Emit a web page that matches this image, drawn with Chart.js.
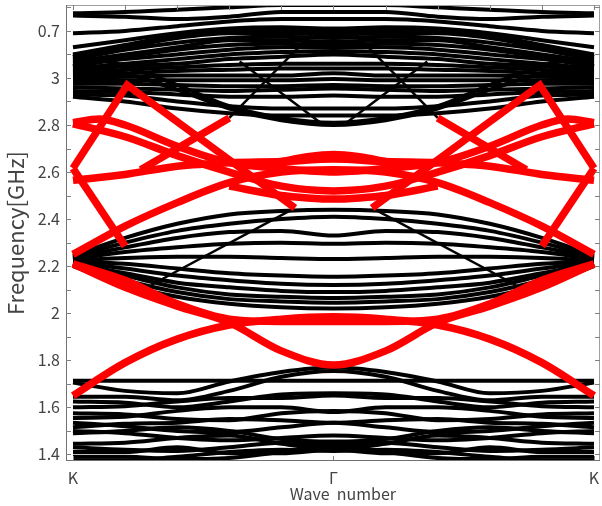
<!DOCTYPE html>
<html>
<head>
<meta charset="utf-8">
<script src="https://cdn.jsdelivr.net/npm/chart.js@4"></script>
<style>
  body { margin: 0; background: #ffffff; }
  canvas { display: block; }
</style>
</head>
<body>
<canvas id="bandChart" width="602" height="506"></canvas>
<script>
// ======================================================
// BAND DIAGRAM DATA (frequency in GHz along K - Γ - K)
// ======================================================
const kPos = [0, 0.1, 0.2, 0.3, 0.4, 0.5, 0.6, 0.7, 0.8, 0.9, 1];

const xTicks = [0, 0.5, 1];
const xTickLabels = ["K", "Γ", "K"];
const yTicks = [1.4, 1.6, 1.8, 2.0, 2.2, 2.4, 2.6, 2.8, 3.0, 3.2];
const yTickLabels = ["1.4", "1.6", "1.8", "2", "2.2", "2.4", "2.6", "2.8", "3", "0.7"];

// lower black bands
const lowBands = [
    [1.713, 1.713, 1.713, 1.713, 1.713, 1.713, 1.713, 1.713, 1.713, 1.713, 1.713],
    [1.705, 1.67, 1.66, 1.71, 1.75, 1.77, 1.75, 1.71, 1.66, 1.67, 1.705],
    [1.645, 1.645, 1.63, 1.67, 1.73, 1.755, 1.73, 1.67, 1.63, 1.645, 1.645],
    [1.625, 1.62, 1.60, 1.625, 1.655, 1.66, 1.655, 1.625, 1.60, 1.62, 1.625],
    [1.60, 1.605, 1.625, 1.64, 1.64, 1.65, 1.64, 1.64, 1.625, 1.605, 1.60],
    [1.575, 1.57, 1.55, 1.545, 1.575, 1.585, 1.575, 1.545, 1.55, 1.57, 1.575],
    [1.555, 1.56, 1.585, 1.60, 1.60, 1.58, 1.60, 1.60, 1.585, 1.56, 1.555],
    [1.535, 1.52, 1.50, 1.495, 1.515, 1.535, 1.515, 1.495, 1.50, 1.52, 1.535],
    [1.515, 1.53, 1.535, 1.55, 1.545, 1.535, 1.545, 1.55, 1.535, 1.53, 1.515],
    [1.50, 1.49, 1.47, 1.46, 1.47, 1.48, 1.47, 1.46, 1.47, 1.49, 1.50],
    [1.49, 1.50, 1.515, 1.50, 1.465, 1.455, 1.465, 1.50, 1.515, 1.50, 1.49],
    [1.445, 1.45, 1.47, 1.48, 1.445, 1.425, 1.445, 1.48, 1.47, 1.45, 1.445],
    [1.43, 1.42, 1.415, 1.43, 1.45, 1.44, 1.45, 1.43, 1.415, 1.42, 1.43],
    [1.41, 1.41, 1.43, 1.405, 1.405, 1.42, 1.405, 1.405, 1.43, 1.41, 1.41],
    [1.39, 1.39, 1.38, 1.385, 1.41, 1.43, 1.41, 1.385, 1.38, 1.39, 1.39],
    [1.375, 1.375, 1.39, 1.41, 1.42, 1.415, 1.42, 1.41, 1.39, 1.375, 1.375]
];

// middle black fan
const midBands = [
    [2.245, 2.32, 2.38, 2.42, 2.435, 2.44, 2.435, 2.42, 2.38, 2.32, 2.245],
    [2.24, 2.30, 2.35, 2.38, 2.40, 2.41, 2.40, 2.38, 2.35, 2.30, 2.24],
    [2.235, 2.28, 2.32, 2.345, 2.35, 2.33, 2.35, 2.345, 2.32, 2.28, 2.235],
    [2.23, 2.26, 2.28, 2.295, 2.30, 2.295, 2.30, 2.295, 2.28, 2.26, 2.23],
    [2.225, 2.235, 2.24, 2.24, 2.235, 2.23, 2.235, 2.24, 2.24, 2.235, 2.225],
    [2.22, 2.21, 2.19, 2.17, 2.16, 2.155, 2.16, 2.17, 2.19, 2.21, 2.22],
    [2.215, 2.19, 2.16, 2.14, 2.125, 2.12, 2.125, 2.14, 2.16, 2.19, 2.215],
    [2.21, 2.17, 2.13, 2.11, 2.095, 2.09, 2.095, 2.11, 2.13, 2.17, 2.21],
    [2.21, 2.16, 2.11, 2.08, 2.07, 2.065, 2.07, 2.08, 2.11, 2.16, 2.21],
    [2.205, 2.14, 2.09, 2.06, 2.05, 2.045, 2.05, 2.06, 2.09, 2.14, 2.205],
    [2.20, 2.12, 2.07, 2.04, 2.025, 2.02, 2.025, 2.04, 2.07, 2.12, 2.20]
];

// upper black bands
const highBands = [
    [3.275, 3.28, 3.29, 3.30, 3.31, 3.31, 3.31, 3.30, 3.29, 3.28, 3.275],
    [3.265, 3.26, 3.25, 3.26, 3.28, 3.28, 3.28, 3.26, 3.25, 3.26, 3.265],
    [3.19, 3.20, 3.22, 3.24, 3.25, 3.25, 3.25, 3.24, 3.22, 3.20, 3.19],
    [3.13, 3.16, 3.19, 3.21, 3.215, 3.21, 3.215, 3.21, 3.19, 3.16, 3.13],
    [3.10, 3.14, 3.18, 3.20, 3.20, 3.20, 3.20, 3.20, 3.18, 3.14, 3.10],
    [3.09, 3.13, 3.17, 3.19, 3.19, 3.185, 3.19, 3.19, 3.17, 3.13, 3.09],
    [3.08, 3.12, 3.15, 3.17, 3.175, 3.17, 3.175, 3.17, 3.15, 3.12, 3.08],
    [3.07, 3.10, 3.13, 3.16, 3.16, 3.155, 3.16, 3.16, 3.13, 3.10, 3.07],
    [3.06, 3.09, 3.12, 3.14, 3.145, 3.14, 3.145, 3.14, 3.12, 3.09, 3.06],
    [3.05, 3.08, 3.10, 3.12, 3.13, 3.13, 3.13, 3.12, 3.10, 3.08, 3.05],
    [3.04, 3.06, 3.08, 3.10, 3.11, 3.115, 3.11, 3.10, 3.08, 3.06, 3.04],
    [3.03, 3.05, 3.06, 3.08, 3.09, 3.10, 3.09, 3.08, 3.06, 3.05, 3.03],
    [3.02, 3.035, 3.045, 3.055, 3.06, 3.06, 3.06, 3.055, 3.045, 3.035, 3.02],
    [3.01, 3.02, 3.03, 3.035, 3.04, 3.04, 3.04, 3.035, 3.03, 3.02, 3.01],
    [3.00, 3.005, 3.01, 3.01, 3.01, 3.02, 3.01, 3.01, 3.01, 3.005, 3.00],
    [2.99, 2.99, 2.99, 2.99, 2.99, 2.995, 2.99, 2.99, 2.99, 2.99, 2.99],
    [2.975, 2.975, 2.97, 2.965, 2.965, 2.97, 2.965, 2.965, 2.97, 2.975, 2.975],
    [2.96, 2.955, 2.95, 2.945, 2.95, 2.955, 2.95, 2.945, 2.95, 2.955, 2.96],
    [2.945, 2.94, 2.93, 2.92, 2.92, 2.925, 2.92, 2.92, 2.93, 2.94, 2.945],
    [2.93, 2.925, 2.90, 2.88, 2.87, 2.87, 2.87, 2.88, 2.90, 2.925, 2.93],
    [2.92, 2.90, 2.87, 2.85, 2.84, 2.84, 2.84, 2.85, 2.87, 2.90, 2.92],
    [3.10, 3.05, 2.97, 2.88, 2.83, 2.81, 2.83, 2.88, 2.97, 3.05, 3.10],
    [3.06, 3.02, 2.95, 2.87, 2.82, 2.80, 2.82, 2.87, 2.95, 3.02, 3.06]
];

// thin straight black lines
const thinX = [[0.15, 0.42], [0.85, 0.58], [0.30, 0.46], [0.70, 0.54], [0.32, 0.475], [0.68, 0.525]];
const thinY = [[2.12, 2.44], [2.12, 2.44], [2.83, 3.19], [2.83, 3.19], [3.07, 2.81], [3.07, 2.81]];

// red (highlighted) bands on the K grid
const redBands = [
    [1.65, 1.79, 1.89, 1.95, 1.975, 1.985, 1.975, 1.95, 1.89, 1.79, 1.65],
    [2.21, 2.11, 2.03, 1.96, 1.84, 1.78, 1.84, 1.96, 2.03, 2.11, 2.21],
    [2.21, 2.14, 2.04, 1.975, 1.965, 1.965, 1.965, 1.975, 2.04, 2.14, 2.21],
    [2.25, 2.37, 2.47, 2.555, 2.60, 2.61, 2.60, 2.555, 2.47, 2.37, 2.25],
    [2.565, 2.59, 2.625, 2.64, 2.645, 2.655, 2.645, 2.64, 2.625, 2.59, 2.565],
    [2.805, 2.75, 2.67, 2.60, 2.54, 2.52, 2.54, 2.60, 2.67, 2.75, 2.805]
];

// red bands with their own k samples
const redLoopX = [0, 0.05, 0.1, 0.2, 0.3, 0.4, 0.5, 0.6, 0.7, 0.8, 0.9, 0.95, 1];
const redLoopY = [2.81, 2.825, 2.80, 2.71, 2.64, 2.615, 2.60, 2.615, 2.64, 2.71, 2.80, 2.825, 2.81];
const redHumpX = [0.4, 0.45, 0.5, 0.55, 0.6];
const redHumpY = [2.645, 2.665, 2.675, 2.665, 2.645];
const redEllX = [0.3, 0.4, 0.45, 0.5, 0.55, 0.6, 0.7];
const redEllY = [2.54, 2.50, 2.49, 2.485, 2.49, 2.50, 2.54];

// red straight segments
const segX = [[0, 0.104, 0.426], [1, 0.896, 0.574], [0, 0.1], [1, 0.9], [0.13, 0.30], [0.87, 0.70]];
const segY = [[2.616, 2.97, 2.447], [2.616, 2.97, 2.447], [2.616, 2.285], [2.616, 2.285], [2.61, 2.83], [2.61, 2.83]];


// ======================================================
// DATASETS
// ======================================================
function toPoints(xs, ys) {
    return xs.map((x, i) => ({ x: x, y: ys[i] }));
}

function curve(xs, ys, color, width, smooth, order) {
    return {
        data: toPoints(xs, ys),
        borderColor: color,
        borderWidth: width,
        pointRadius: 0,
        fill: false,
        cubicInterpolationMode: smooth ? "monotone" : "default",
        tension: 0,
        order: order
    };
}

const datasets = [];

redBands.forEach(b => datasets.push(curve(kPos, b, "#ff0000", 7.5, true, 0)));
datasets.push(curve(redLoopX, redLoopY, "#ff0000", 7.5, true, 0));
datasets.push(curve(redHumpX, redHumpY, "#ff0000", 7.5, true, 0));
datasets.push(curve(redEllX, redEllY, "#ff0000", 7.5, true, 0));
segX.forEach((xs, i) => datasets.push(curve(xs, segY[i], "#ff0000", 7.5, false, 0)));

lowBands.forEach(b => datasets.push(curve(kPos, b, "#000000", 4, true, 1)));
midBands.forEach(b => datasets.push(curve(kPos, b, "#000000", 4, true, 1)));
highBands.forEach(b => datasets.push(curve(kPos, b, "#000000", 4, true, 1)));
thinX.forEach((xs, i) => datasets.push(curve(xs, thinY[i], "#000000", 2.5, false, 1)));


// ======================================================
// FRAME + INWARD TICKS
// ======================================================
const framePlugin = {
    id: "frame",
    afterDraw(chart) {
        const ctx = chart.ctx;
        const a = chart.chartArea;
        const x = chart.scales.x;
        const y = chart.scales.y;

        ctx.save();
        ctx.strokeStyle = "#a0a0a0";
        ctx.lineWidth = 1;
        ctx.strokeRect(a.left + 0.5, a.top + 0.5, a.right - a.left - 1, a.bottom - a.top - 1);

        ctx.strokeStyle = "#707070";
        ctx.beginPath();
        ctx.moveTo(a.left + 0.5, a.top);
        ctx.lineTo(a.left + 0.5, a.bottom);
        ctx.moveTo(a.left, a.bottom - 0.5);
        ctx.lineTo(a.right, a.bottom - 0.5);
        ctx.stroke();

        ctx.strokeStyle = "#808080";
        ctx.beginPath();
        for (let v = 1.4; v < 3.31; v += 0.1) {
            const py = Math.round(y.getPixelForValue(v)) + 0.5;
            ctx.moveTo(a.left, py);
            ctx.lineTo(a.left + 5, py);
            ctx.moveTo(a.right, py);
            ctx.lineTo(a.right - 5, py);
        }
        kPos.forEach(v => {
            const px = Math.round(x.getPixelForValue(v)) + 0.5;
            ctx.moveTo(px, a.top);
            ctx.lineTo(px, a.top + 5);
        });
        xTicks.forEach(v => {
            const px = Math.round(x.getPixelForValue(v)) + 0.5;
            ctx.moveTo(px, a.bottom);
            ctx.lineTo(px, a.bottom - 5);
        });
        ctx.stroke();
        ctx.restore();
    }
};


// ======================================================
// CHART
// ======================================================
const fontFamily = "'Noto Sans CJK JP', 'Noto Sans', sans-serif";

new Chart(document.getElementById("bandChart"), {

    type: "line",

    data: { datasets: datasets },

    options: {

        responsive: false,
        animation: false,
        devicePixelRatio: 1,

        layout: {
            padding: { left: 0, right: 2, top: 5, bottom: 0 }
        },

        plugins: {
            legend: { display: false },
            tooltip: { enabled: false }
        },

        scales: {

            x: {
                type: "linear",
                min: -0.0134,
                max: 1.0115,
                afterBuildTicks: s => { s.ticks = xTicks.map(v => ({ value: v })); },
                afterFit: s => { s.height = 45; s.paddingLeft = 0; s.paddingRight = 0; },
                ticks: {
                    autoSkip: false,
                    maxRotation: 0,
                    padding: 7,
                    color: "#444444",
                    font: { family: fontFamily, size: 16 },
                    callback: (v, i) => xTickLabels[i]
                },
                grid: { drawOnChartArea: false, drawTicks: false },
                border: { display: false },
                title: {
                    display: true,
                    text: "\u3000 Wave  number",
                    color: "#444444",
                    padding: { top: 0, bottom: 2 },
                    font: { family: fontFamily, size: 16 }
                }
            },

            y: {
                min: 1.372,
                max: 3.31,
                afterBuildTicks: s => { s.ticks = yTicks.map(v => ({ value: v })); },
                afterFit: s => { s.width = 66; s.paddingTop = 0; s.paddingBottom = 0; },
                ticks: {
                    padding: 6,
                    color: "#444444",
                    font: { family: fontFamily, size: 16 },
                    callback: (v, i) => yTickLabels[i]
                },
                grid: { drawOnChartArea: false, drawTicks: false },
                border: { display: false },
                title: {
                    display: true,
                    text: "Frequency[GHz]",
                    color: "#444444",
                    padding: { top: 2, bottom: 0 },
                    font: { family: fontFamily, size: 22 }
                }
            }

        }

    },

    plugins: [framePlugin]

});
</script>
</body>
</html>
